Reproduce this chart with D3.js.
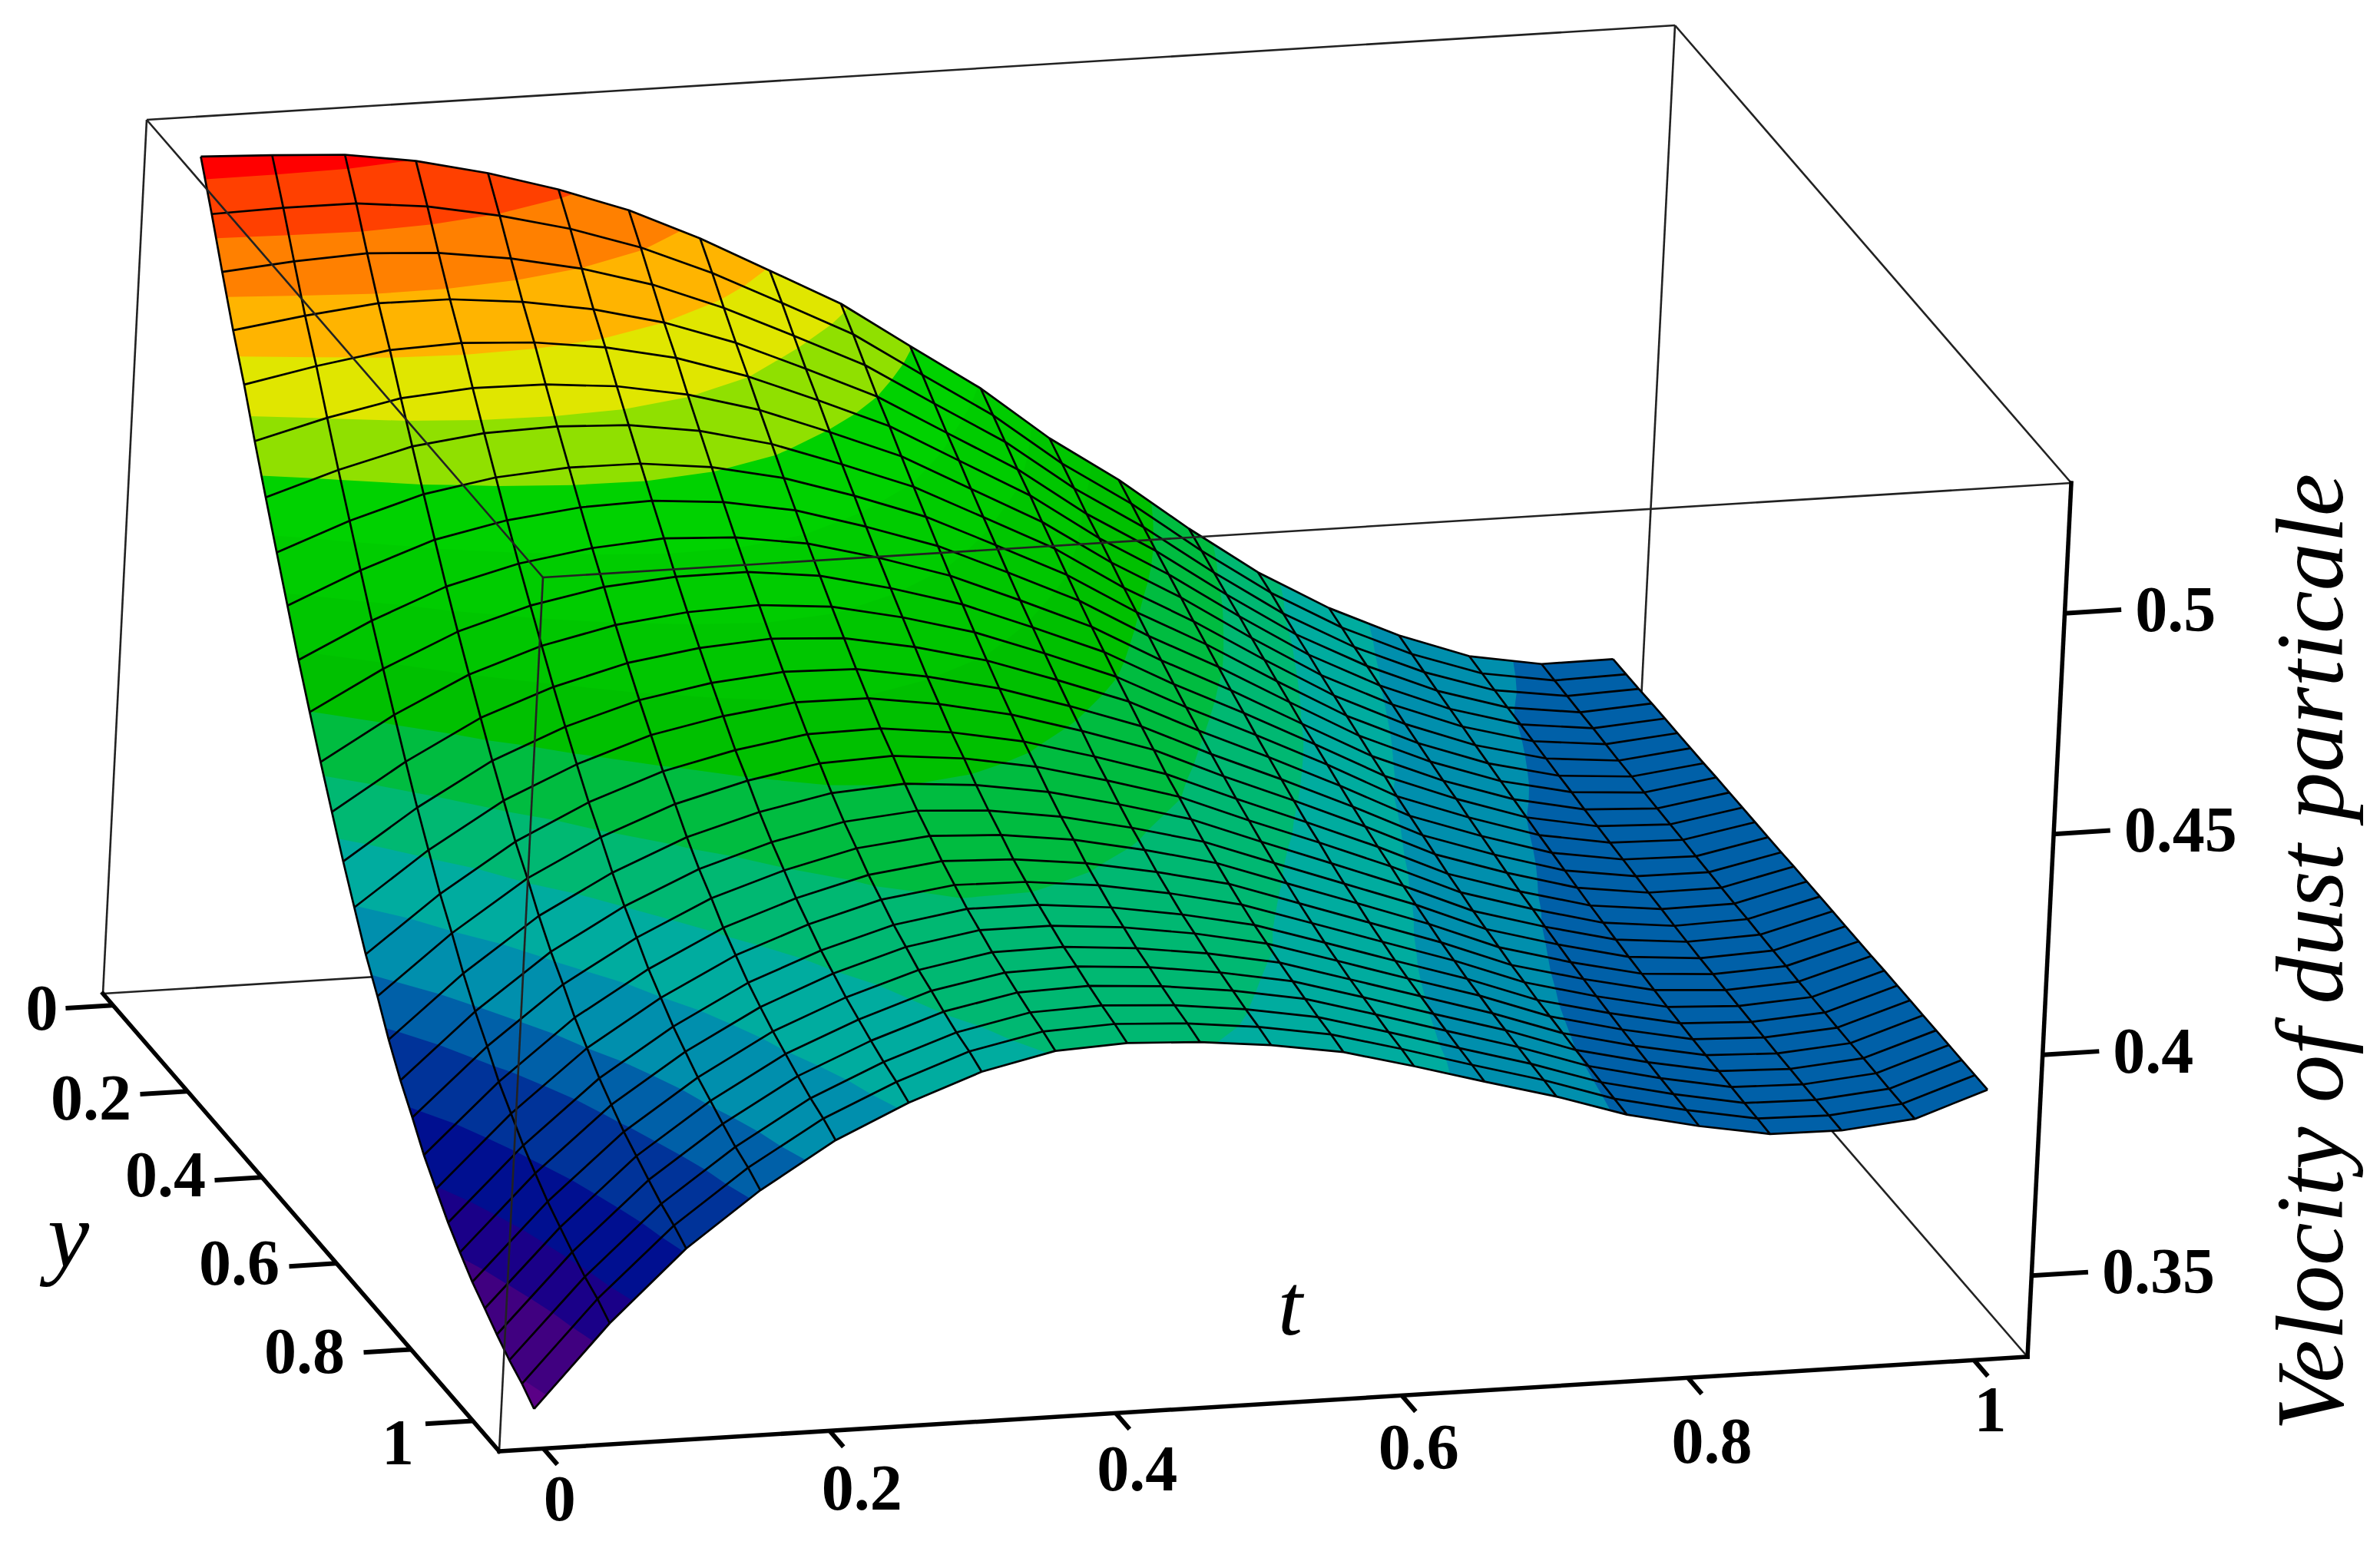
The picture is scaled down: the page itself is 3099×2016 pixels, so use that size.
<!DOCTYPE html>
<html>
<head>
<meta charset="utf-8">
<script src="https://cdn.jsdelivr.net/npm/d3@7"></script>
<style>
  html, body { margin: 0; padding: 0; background: #fff; }
  svg { display: block; }
  .wire { fill: none; stroke: #000; stroke-width: 2.7; stroke-linejoin: round; }
  .back { fill: none; stroke: #222; stroke-width: 2.6; }
  .axis { fill: none; stroke: #000; stroke-width: 5.5; stroke-linecap: square; }
  .tick { stroke: #000; stroke-width: 6; }
  .num { font-family: "Liberation Serif", serif; font-weight: bold; font-size: 84px; fill: #000; }
  .lab { font-family: "Liberation Serif", serif; font-style: italic; fill: #000; }
</style>
</head>
<body>
<div id="chart"></div>
<script>
// **** THE DATA ****

// grid lines of the surface
const tValues = [-0.002,0.048,0.099,0.149,0.200,0.250,0.300,0.351,0.401,0.452,0.502,0.553,0.603,0.653,0.704,0.754,0.805,0.855,0.905,0.956,1.006]
const yValues = [0.010,0.045,0.079,0.114,0.149,0.183,0.218,0.253,0.287,0.322,0.357,0.391,0.426,0.461,0.495,0.530,0.565,0.599,0.634,0.669,0.703,0.738,0.773,0.807,0.842,0.877,0.911,0.946,0.981,1.015]

// velocity of dust particle, one row for each y, one column for each t
const velocity = [
  [.5242,.5235,.5226,.5202,.5164,.5117,.5060,.4986,.4903,.4818,.4712,.4606,.4483,.4379,.4258,.4149,.4058,.3986,.3929,.3901,.3902],
  [.5146,.5150,.5150,.5133,.5102,.5062,.5010,.4942,.4864,.4783,.4681,.4579,.4460,.4359,.4242,.4137,.4048,.3978,.3924,.3898,.3902],
  [.5048,.5062,.5070,.5061,.5038,.5005,.4959,.4896,.4823,.4746,.4649,.4552,.4437,.4339,.4226,.4123,.4037,.3970,.3919,.3896,.3902],
  [.4950,.4973,.4991,.4990,.4974,.4947,.4907,.4851,.4782,.4709,.4617,.4524,.4413,.4319,.4210,.4110,.4028,.3962,.3914,.3893,.3903],
  [.4861,.4893,.4919,.4925,.4916,.4895,.4861,.4809,.4745,.4676,.4588,.4499,.4392,.4300,.4195,.4098,.4018,.3955,.3910,.3891,.3903],
  [.4766,.4809,.4843,.4856,.4854,.4840,.4811,.4766,.4706,.4641,.4557,.4472,.4370,.4281,.4179,.4085,.4008,.3948,.3905,.3888,.3903],
  [.4673,.4725,.4768,.4788,.4793,.4786,.4763,.4723,.4667,.4606,.4527,.4446,.4347,.4261,.4164,.4073,.3998,.3940,.3900,.3885,.3903],
  [.4582,.4644,.4694,.4722,.4734,.4733,.4715,.4680,.4630,.4572,.4498,.4420,.4326,.4243,.4149,.4061,.3989,.3933,.3895,.3883,.3903],
  [.4495,.4565,.4624,.4658,.4677,.4682,.4669,.4640,.4593,.4539,.4469,.4395,.4305,.4225,.4135,.4049,.3980,.3926,.3891,.3880,.3904],
  [.4406,.4485,.4552,.4594,.4619,.4631,.4623,.4599,.4557,.4506,.4440,.4370,.4284,.4206,.4120,.4037,.3971,.3919,.3886,.3878,.3904],
  [.4322,.4410,.4484,.4533,.4565,.4578,.4579,.4560,.4522,.4475,.4413,.4347,.4264,.4189,.4108,.4026,.3964,.3912,.3882,.3876,.3904],
  [.4242,.4339,.4420,.4475,.4512,.4531,.4537,.4523,.4489,.4445,.4387,.4324,.4245,.4172,.4095,.4013,.3955,.3905,.3878,.3874,.3904],
  [.4163,.4267,.4356,.4416,.4460,.4484,.4495,.4486,.4456,.4415,.4361,.4302,.4226,.4156,.4081,.4003,.3947,.3899,.3874,.3871,.3904],
  [.4085,.4197,.4293,.4360,.4410,.4439,.4454,.4450,.4423,.4386,.4336,.4280,.4207,.4140,.4068,.3993,.3939,.3893,.3870,.3869,.3904],
  [.4014,.4134,.4236,.4308,.4364,.4397,.4418,.4417,.4394,.4360,.4313,.4260,.4190,.4125,.4056,.3983,.3931,.3887,.3866,.3867,.3905],
  [.3942,.4069,.4177,.4256,.4316,.4354,.4380,.4383,.4364,.4333,.4289,.4239,.4173,.4110,.4044,.3973,.3923,.3881,.3863,.3865,.3905],
  [.3881,.4014,.4128,.4211,.4276,.4319,.4348,.4355,.4339,.4310,.4269,.4222,.4158,.4098,.4034,.3965,.3917,.3876,.3859,.3864,.3905],
  [.3816,.3956,.4076,.4164,.4234,.4281,.4314,.4325,.4312,.4286,.4248,.4204,.4143,.4084,.4023,.3956,.3910,.3871,.3856,.3862,.3905],
  [.3758,.3904,.4029,.4122,.4196,.4247,.4283,.4298,.4288,.4264,.4229,.4187,.4129,.4072,.4014,.3949,.3904,.3866,.3853,.3860,.3905],
  [.3708,.3859,.3989,.4085,.4164,.4217,.4257,.4275,.4267,.4246,.4213,.4173,.4117,.4062,.4005,.3942,.3898,.3862,.3851,.3859,.3905],
  [.3656,.3812,.3947,.4047,.4130,.4187,.4230,.4251,.4245,.4226,.4196,.4159,.4105,.4051,.3996,.3935,.3893,.3858,.3848,.3857,.3905],
  [.3613,.3774,.3912,.4016,.4102,.4162,.4208,.4231,.4228,.4210,.4182,.4146,.4094,.4042,.3989,.3930,.3888,.3854,.3846,.3856,.3906],
  [.3571,.3736,.3878,.3985,.4074,.4137,.4185,.4211,.4210,.4194,.4168,.4134,.4084,.4033,.3982,.3924,.3884,.3851,.3844,.3855,.3906],
  [.3537,.3706,.3851,.3961,.4052,.4118,.4168,.4196,.4196,.4182,.4158,.4125,.4076,.4026,.3977,.3920,.3880,.3848,.3842,.3854,.3906],
  [.3504,.3676,.3824,.3937,.4031,.4098,.4150,.4180,.4182,.4169,.4147,.4116,.4068,.4020,.3971,.3916,.3877,.3846,.3840,.3853,.3906],
  [.3478,.3652,.3803,.3918,.4014,.4082,.4137,.4168,.4172,.4160,.4138,.4108,.4062,.4014,.3967,.3912,.3874,.3844,.3839,.3853,.3906],
  [.3452,.3629,.3782,.3899,.3997,.4067,.4123,.4156,.4161,.4150,.4130,.4101,.4056,.4009,.3962,.3909,.3871,.3841,.3837,.3852,.3906],
  [.3428,.3607,.3762,.3881,.3981,.4053,.4110,.4145,.4151,.4141,.4122,.4094,.4050,.4004,.3958,.3906,.3869,.3839,.3836,.3851,.3906],
  [.3409,.3591,.3747,.3868,.3969,.4042,.4101,.4136,.4143,.4134,.4116,.4089,.4046,.4000,.3955,.3903,.3867,.3838,.3835,.3851,.3906],
  [.3385,.3569,.3728,.3850,.3953,.4028,.4088,.4125,.4133,.4125,.4108,.4082,.4040,.3995,.3951,.3900,.3864,.3836,.3834,.3850,.3906]
]

// colour bands of the surface
const bandLevels = [0.33,.3415,.3530,.3617,.3722,.3833,.3912,.4017,.4121,.4220,.4323,.4420,.4515,.4610,.4709,.4808,.4907,.5006,.5105,.5204]
const bandColors = ["#5a0086","#400080","#1a0088","#000f90","#003399","#0060a8","#008fad","#00ac9f","#00b872","#00bc40","#00c000","#00c600","#00cc00","#00d200","#90e000","#e0e600","#ffb400","#ff8000","#ff4000","#ff0000"]

// tick labels
const tTicks = [0, 0.2, 0.4, 0.6, 0.8, 1]
const yTicks = [0, 0.2, 0.4, 0.6, 0.8, 1]
const yTickSpots = [0, 0.2, 0.4, 0.6, 0.8, 0.966]
const zTicks = [0.35, 0.4, 0.45, 0.5]

//------------------------------------------------------------------------------

// **** THE SETUP ****

const width = 3099
const height = 2016

// --> SCALES: each one goes from data value to a 0-1 place along a side of the box
const tScale = d3.scaleLinear().domain([0, 1]).range([0.029, 0.965])
const yScale = d3.scaleLinear().domain([0, 1]).range([0.0255, 0.9655])
const zScale = d3.scaleLinear().domain([0.3316, 0.5295]).range([0, 1])

// the box is a parallel projection: one corner and three side vectors
function boxPoint(a, b, c) {
  return [134 + 1990 * a + 516 * b + 57 * c,
          1294 - 123 * a + 596 * b - 1138 * c]
}
const project = (t, y, z) => boxPoint(tScale(t), yScale(y), zScale(z))

const svg = d3.select("#chart").append("svg")
  .attr("width", width)
  .attr("height", height)
  .attr("viewBox", [0, 0, width, height])

const line = d3.line()

function edge(p, q, cls) {
  svg.append("path").attr("class", cls).attr("d", line([boxPoint(...p), boxPoint(...q)]))
}

//------------------------------------------------------------------------------

// **** PUT IT ON THE PAGE ****

// --> BOX EDGES BEHIND THE SURFACE
edge([0, 0, 0], [1, 0, 0], "back")
edge([1, 0, 0], [1, 1, 0], "back")
edge([1, 0, 0], [1, 0, 1], "back")
edge([0, 0, 0], [0, 0, 1], "back")
edge([0, 0, 1], [1, 0, 1], "back")
edge([1, 0, 1], [1, 1, 1], "back")

// --> COLOUR BANDS
// d3.contours works in grid cells, so turn its cell coordinates back into t, y, z
const nt = tValues.length
const ny = yValues.length

function cellToScreen(cx, cy) {
  const fx = Math.max(0, Math.min(nt - 1, cx - 0.5))
  const fy = Math.max(0, Math.min(ny - 1, cy - 0.5))
  const i = Math.min(nt - 2, Math.floor(fx))
  const j = Math.min(ny - 2, Math.floor(fy))
  const u = fx - i
  const v = fy - j
  const z = d3.interpolateNumber(
    d3.interpolateNumber(velocity[j][i], velocity[j][i + 1])(u),
    d3.interpolateNumber(velocity[j + 1][i], velocity[j + 1][i + 1])(u))(v)
  return project(d3.interpolateNumber(tValues[i], tValues[i + 1])(u),
                 d3.interpolateNumber(yValues[j], yValues[j + 1])(v), z)
}

const cellPath = d3.geoPath(d3.geoTransform({
  point(x, y) {
    const p = cellToScreen(x, y)
    this.stream.point(p[0], p[1])
  }
}))

const bands = d3.contours()
  .size([nt, ny])
  .thresholds(bandLevels)(velocity.flat())

svg.append("g").selectAll("path")
  .data(bands)
  .join("path")
  .attr("d", cellPath)
  .attr("fill", (d, i) => bandColors[i])

// --> WIRE MESH
const rowLines = velocity.map((row, j) => row.map((z, i) => project(tValues[i], yValues[j], z)))
const colLines = tValues.map((t, i) => yValues.map((y, j) => project(t, y, velocity[j][i])))

svg.append("g").selectAll("path")
  .data(rowLines.concat(colLines))
  .join("path")
  .attr("class", "wire")
  .attr("d", line)

// --> BOX EDGES THAT SHOW IN FRONT OF THE SURFACE
edge([0, 0, 1], [0, 1, 1], "back")
edge([0, 1, 1], [1, 1, 1], "back")
edge([0, 1, 0], [0, 1, 1], "back")

// --> THE THREE AXES
edge([0, 0, 0], [0, 1, 0], "axis")
edge([0, 1, 0], [1, 1, 0], "axis")
edge([1, 1, 0], [1, 1, 1], "axis")

// t axis ticks point along y, labels were placed by hand in the original
const tLabelShift = [[3, 45], [24, 54], [10, 52], [4, 47], [13, 62], [3, 44]]
tTicks.forEach((d, i) => {
  const a = boxPoint(tScale(d), 1, 0)
  const b = boxPoint(tScale(d), 1.035, 0)
  svg.append("path").attr("class", "tick").attr("d", line([a, b]))
  svg.append("text").attr("class", "num")
    .attr("x", b[0] + tLabelShift[i][0])
    .attr("y", b[1] + tLabelShift[i][1])
    .attr("text-anchor", "middle")
    .attr("dy", "0.33em")
    .text(d)
})

// y axis ticks point back along t
const yLabelShift = [[-31, 0], [-64, 5], [-64, -7], [-65, -4], [-77, -1], [-36, 25]]
yTicks.forEach((d, i) => {
  const a = boxPoint(0, yScale(yTickSpots[i]), 0)
  const b = boxPoint(-0.031, yScale(yTickSpots[i]), 0)
  svg.append("path").attr("class", "tick").attr("d", line([a, b]))
  svg.append("text").attr("class", "num")
    .attr("x", b[0] + yLabelShift[i][0])
    .attr("y", b[1] + yLabelShift[i][1])
    .attr("text-anchor", "middle")
    .attr("dy", "0.33em")
    .text(d)
})

// velocity ticks point out along t
zTicks.forEach((d) => {
  const a = boxPoint(1, 1, zScale(d))
  const b = boxPoint(1.037, 1, zScale(d))
  svg.append("path").attr("class", "tick").attr("d", line([a, b]))
  svg.append("text").attr("class", "num")
    .attr("x", b[0] + 18)
    .attr("y", b[1])
    .attr("dy", "0.33em")
    .text(d)
})

// --> AXIS TITLES
svg.append("text").attr("class", "lab")
  .attr("x", 89).attr("y", 1650)
  .attr("text-anchor", "middle")
  .style("font-size", "122px")
  .text("y")

svg.append("text").attr("class", "lab")
  .attr("x", 1680).attr("y", 1738)
  .attr("text-anchor", "middle")
  .style("font-size", "115px")
  .text("t")

svg.append("text").attr("class", "lab")
  .attr("transform", "translate(3050,1240) rotate(-90)")
  .attr("text-anchor", "middle")
  .style("font-size", "125px")
  .text("Velocity of dust particale")
</script>
</body>
</html>
